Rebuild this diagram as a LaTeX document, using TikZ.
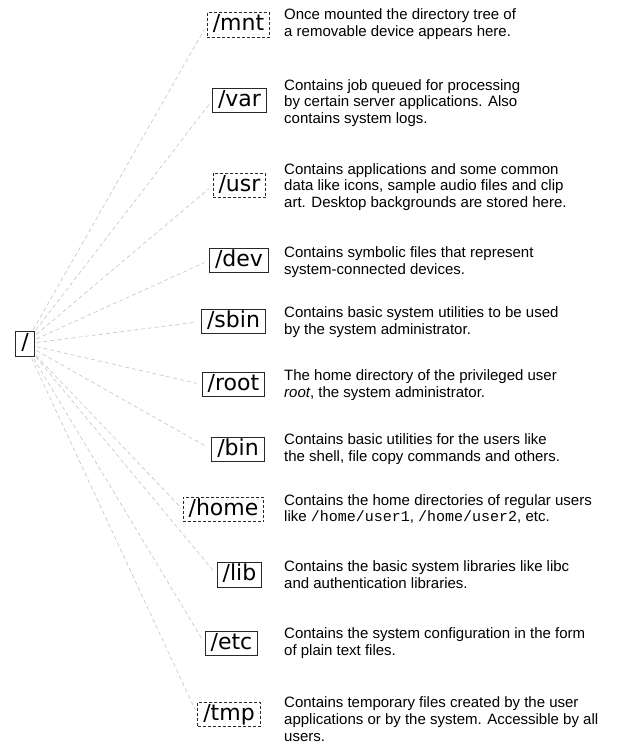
\documentclass[tikz,border=0pt]{standalone}
\usepackage{fontspec}
\setmainfont{Liberation Sans}
\setmonofont{Liberation Mono}
\newfontfamily\dirfont{DejaVu Sans}
\definecolor{boxline}{RGB}{40,40,40}
\definecolor{linkgray}{RGB}{195,195,195}
\tikzset{
  dirbox/.style={draw=boxline, line width=0.9pt, inner xsep=5.5pt, inner ysep=2pt,
    text height=16pt, text depth=4.6pt, font=\dirfont\fontsize{22}{22}\selectfont},
  mountbox/.style={dirbox, dash pattern=on 3pt off 2pt},
  desc/.style={anchor=west, align=left, inner sep=0pt, font=\fontsize{15}{16.8}\selectfont},
  link/.style={draw=linkgray, line width=0.6pt, dash pattern=on 4pt off 3pt,
    shorten <=2pt, shorten >=5pt}
}

\begin{document}
\begin{tikzpicture}[x=1pt, y=-1pt]
\useasboundingbox (0,0) rectangle (631,745);

% Root of the tree
\node[dirbox] (top) at (25,344) {/};

% Directories
\node[mountbox] (mnt) at (238.5,25) {/mnt};
\node[dirbox] (var) at (239.5,100.5) {/var};
\node[mountbox] (usr) at (239.5,185.5) {/usr};
\node[dirbox] (dev) at (239,260.5) {/dev};
\node[dirbox] (sbin) at (233.5,321.5) {/sbin};
\node[dirbox] (root) at (233.5,384.5) {/root};
\node[dirbox] (bin) at (238,449.5) {/bin};
\node[mountbox] (home) at (223.5,509.5) {/home};
\node[dirbox] (lib) at (239.5,575) {/lib};
\node[dirbox] (etc) at (231.5,643.5) {/etc};
\node[mountbox] (tmp) at (229,714.5) {/tmp};

% Descriptions
\node[desc] (mntdesc) at (284,24) {Once mounted the directory tree of\\a removable device appears here.};
\node[desc] (vardesc) at (284,103) {Contains job queued for processing\\by certain server applications. Also\\contains system logs.};
\node[desc] (usrdesc) at (284,187) {Contains applications and some common\\data like icons, sample audio files and clip\\art. Desktop backgrounds are stored here.};
\node[desc] (devdesc) at (284,262) {Contains symbolic files that represent\\system-connected devices.};
\node[desc] (sbindesc) at (284,322) {Contains basic system utilities to be used\\by the system administrator.};
\node[desc] (rootdesc) at (284,385) {The home directory of the privileged user\\\textit{root}, the system administrator.};
\node[desc] (bindesc) at (284,449) {Contains basic utilities for the users like\\the shell, file copy commands and others.};
\node[desc] (homedesc) at (284,509) {Contains the home directories of regular users\\like \texttt{/home/user1}, \texttt{/home/user2}, etc.};
\node[desc] (libdesc) at (284,575) {Contains the basic system libraries like libc\\and authentication libraries.};
\node[desc] (etcdesc) at (284,643) {Contains the system configuration in the form\\of plain text files.};
\node[desc] (tmpdesc) at (284,719) {Contains temporary files created by the user\\applications or by the system. Accessible by all\\users.};

% Connections
\draw[link] (top) -- (mnt.west);
\draw[link] (top) -- (var.west);
\draw[link] (top) -- (usr.west);
\draw[link] (top) -- (dev.west);
\draw[link] (top) -- (sbin.west);
\draw[link] (top) -- (root.west);
\draw[link] (top) -- (bin.west);
\draw[link] (top) -- (home.west);
\draw[link] (top) -- (lib.west);
\draw[link] (top) -- (etc.west);
\draw[link] (top) -- (tmp.west);
\end{tikzpicture}
\end{document}
